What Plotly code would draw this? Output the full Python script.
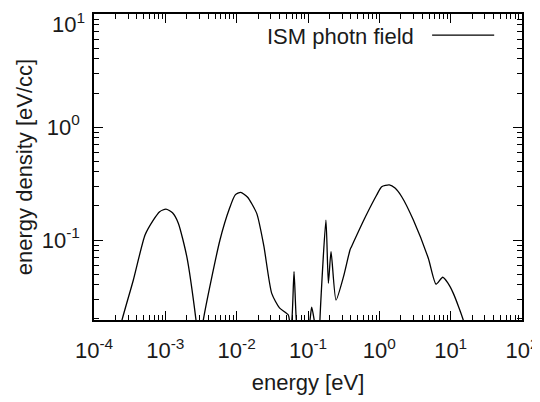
import plotly.graph_objects as go

# data (energy in eV, energy density in eV/cc)
energy = [2.0e-4, 2.47e-4, 3.56e-4, 5.19e-4, 6.78e-4, 8.32e-4, 1.02e-3, 1.26e-3,
          1.52e-3, 2.0e-3, 2.69e-3, 3.02e-3, 3.41e-3, 5.83e-3, 7.94e-3, 9.55e-3,
          0.01138, 0.01413, 0.0191, 0.024, 0.031, 0.0398, 0.053, 0.0562, 0.059,
          0.0637, 0.0693, 0.0794, 0.1042, 0.1127, 0.1253, 0.1445, 0.147, 0.1786,
          0.193, 0.2104, 0.247, 0.316, 0.388, 0.407, 0.631, 0.918, 1.079, 1.38,
          1.66, 2.06, 3.0, 4.86, 6.24, 7.74, 9.12, 10.9, 15.0, 17.8]
density = [0.0112, 0.0196, 0.0443, 0.1107, 0.150, 0.178, 0.188, 0.174,
           0.141, 0.0711, 0.0196, 0.010, 0.0196, 0.100, 0.191, 0.251,
           0.264, 0.240, 0.172, 0.0891, 0.0337, 0.0251, 0.0217, 0.0178, 0.019,
           0.0525, 0.0178, 0.0112, 0.0178, 0.0254, 0.0178, 0.0112, 0.0196, 0.150,
           0.0414, 0.0789, 0.0294, 0.0479, 0.0817, 0.0873, 0.158, 0.250, 0.296, 0.307,
           0.288, 0.2415, 0.150, 0.0689, 0.0406, 0.0468, 0.0417, 0.0337, 0.0196, 0.0112]

x_tickvals = [1e-4, 1e-3, 1e-2, 1e-1, 1, 10, 100]
x_ticktext = ["10<sup>-4</sup>", "10<sup>-3</sup>", "10<sup>-2</sup>", "10<sup>-1</sup>",
              "10<sup>0</sup>", "10<sup>1</sup>", "10<sup>2</sup>"]
y_tickvals = [0.1, 1, 10]
y_ticktext = ["10<sup>-1</sup>", "10<sup>0</sup>", "10<sup>1</sup>"]
legend_label = "ISM photn field"

x_minor = [m * 10.0 ** e for e in range(-4, 2) for m in range(2, 10)]
y_minor = [m * 10.0 ** e for e in range(-2, 1) for m in range(2, 10)]

FONT = "Liberation Sans, Arial, Helvetica, sans-serif"
TXT = "#1a1a1a"

fig = go.Figure()
fig.add_trace(go.Scatter(x=energy, y=density, mode="lines",
                         line=dict(color="black", width=1.3, shape="spline", smoothing=0.6),
                         showlegend=False, cliponaxis=True))

axis_common = dict(type="log", showgrid=False, zeroline=False, showline=True,
                   linecolor="black", linewidth=1.5, ticks="inside", ticklen=9,
                   tickwidth=1.2, tickcolor="black", mirror="allticks",
                   tickfont=dict(family=FONT, size=22, color=TXT),
                   tickmode="array", automargin=False)

fig.update_xaxes(**axis_common, range=[-4.0002, 2.0002], tickvals=x_tickvals, ticktext=x_ticktext,
                 ticklabelstandoff=10, ticklabeloverflow="allow",
                 minor=dict(tickvals=x_minor, ticks="inside", ticklen=5, tickwidth=1.2,
                            tickcolor="black", showgrid=False),
                 title=dict(text="energy [eV]", font=dict(family=FONT, size=22, color=TXT),
                            standoff=12))
# the top label sits at the very edge of the page; it is drawn as an annotation below
fig.update_yaxes(**axis_common, range=[-1.708, 1.0002], tickvals=y_tickvals,
                 ticktext=y_ticktext[:-1] + [""],
                 ticklabelstandoff=8,
                 minor=dict(tickvals=y_minor, ticks="inside", ticklen=5, tickwidth=1.2,
                            tickcolor="black", showgrid=False),
                 title=dict(text="energy density [eV/cc]",
                            font=dict(family=FONT, size=22, color=TXT), standoff=3))

fig.add_annotation(x=0, y=1, xref="paper", yref="paper", text=y_ticktext[-1],
                   showarrow=False, xanchor="right", yanchor="top", xshift=-8, yshift=6,
                   borderpad=0, font=dict(family=FONT, size=22, color=TXT))

fig.add_annotation(x=0.752, y=0.928, xref="paper", yref="paper", text=legend_label,
                   showarrow=False, xanchor="right", yanchor="middle",
                   font=dict(family=FONT, size=22, color=TXT))
fig.add_shape(type="line", xref="paper", yref="paper", x0=0.79, x1=0.935, y0=0.931, y1=0.931,
              line=dict(color="black", width=1.3))

# page body adds an 8px margin, so the figure is 532x394 to fill the 540x402 window
fig.update_layout(width=532, height=394, margin=dict(l=86, r=18, t=6, b=82),
                  plot_bgcolor="white", paper_bgcolor="white",
                  font=dict(family=FONT, color=TXT))

fig.write_html("out.html")
